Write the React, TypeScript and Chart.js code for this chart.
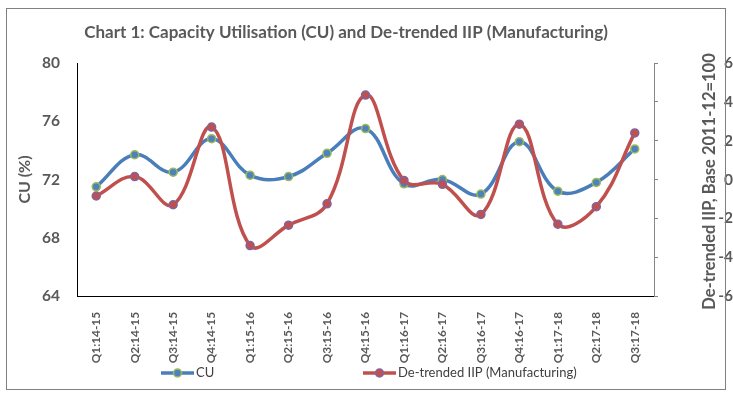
import React, { useEffect, useRef } from "react";
import { Chart, registerables } from "chart.js";

Chart.register(...registerables);

const chartTitle = "Chart 1: Capacity Utilisation (CU) and De-trended IIP (Manufacturing)";
const leftAxisTitle = "CU (%)";
const rightAxisTitle = "De-trended IIP, Base 2011-12=100";

const categories = [
  "Q1:14-15", "Q2:14-15", "Q3:14-15", "Q4:14-15",
  "Q1:15-16", "Q2:15-16", "Q3:15-16", "Q4:15-16",
  "Q1:16-17", "Q2:16-17", "Q3:16-17", "Q4:16-17",
  "Q1:17-18", "Q2:17-18", "Q3:17-18",
];

const cuLabel = "CU";
const cuValues = [71.5, 73.7, 72.5, 74.8, 72.3, 72.2, 73.8, 75.5, 71.7, 72.0, 71.0, 74.6, 71.2, 71.8, 74.1];

const iipLabel = "De-trended IIP (Manufacturing)";
const iipValues = [-0.85, 0.15, -1.3, 2.7, -3.4, -2.35, -1.25, 4.35, -0.05, -0.25, -1.8, 2.85, -2.3, -1.4, 2.4];

const leftAxisMin = 64;
const leftAxisMax = 80;
const leftAxisStep = 4;
const rightAxisMin = -6;
const rightAxisMax = 6;
const rightAxisStep = 2;

const FONT = "Lato, 'Open Sans', sans-serif";
const TEXT = "#595959";

const overlayPlugin = {
  id: "overlay",
  afterDraw(chart: any) {
    const { ctx, chartArea } = chart;
    const midY = (chartArea.top + chartArea.bottom) / 2;
    ctx.save();
    // chart title
    ctx.fillStyle = TEXT;
    ctx.font = `bold 17px ${FONT}`;
    ctx.textAlign = "center";
    ctx.textBaseline = "middle";
    ctx.fillText(chartTitle, chartArea.left + 269, 33);

    // left axis title
    ctx.font = `bold 16px ${FONT}`;
    ctx.save();
    ctx.translate(chartArea.left - 52, midY);
    ctx.rotate(-Math.PI / 2);
    ctx.fillText(leftAxisTitle, 0, 0);
    ctx.restore();

    // right axis title
    ctx.font = `bold 16.5px ${FONT}`;
    ctx.save();
    ctx.translate(chartArea.right + 56, midY + 2);
    ctx.rotate(-Math.PI / 2);
    ctx.fillText(rightAxisTitle, 0, 0);
    ctx.restore();

    // legend
    const legendY = 373;
    const items = [
      { ds: chart.data.datasets[0], x: 161 },
      { ds: chart.data.datasets[1], x: 363 },
    ];
    items.forEach(({ ds, x }) => {
      ctx.strokeStyle = ds.borderColor;
      ctx.lineWidth = 3.5;
      ctx.beginPath();
      ctx.moveTo(x, legendY);
      ctx.lineTo(x + 33, legendY);
      ctx.stroke();
      ctx.beginPath();
      ctx.arc(x + 16.5, legendY, 4, 0, Math.PI * 2);
      ctx.fillStyle = ds.pointBackgroundColor;
      ctx.fill();
      ctx.lineWidth = 1.5;
      ctx.strokeStyle = ds.pointBorderColor;
      ctx.stroke();
      ctx.fillStyle = "#404040";
      ctx.font = `13px ${FONT}`;
      ctx.textAlign = "left";
      ctx.fillText(ds.label, x + 35, legendY);
    });
    ctx.restore();
  },
};

export default function App() {
  const canvasRef = useRef<HTMLCanvasElement | null>(null);

  useEffect(() => {
    if (!canvasRef.current) return;
    const chart = new Chart(canvasRef.current, {
      type: "line",
      data: {
        labels: categories,
        datasets: [
          {
            label: cuLabel,
            data: cuValues,
            yAxisID: "y",
            borderColor: "#4A7EBB",
            backgroundColor: "#4A7EBB",
            borderWidth: 3.5,
            pointBackgroundColor: "#4F81BD",
            pointBorderColor: "#9BBB59",
            pointBorderWidth: 1.5,
            pointRadius: 4,
            tension: 0.4,
            order: 1,
          },
          {
            label: iipLabel,
            data: iipValues,
            yAxisID: "y1",
            borderColor: "#C0504D",
            backgroundColor: "#C0504D",
            borderWidth: 3.5,
            pointBackgroundColor: "#C0504D",
            pointBorderColor: "#8064A2",
            pointBorderWidth: 1.5,
            pointRadius: 4,
            tension: 0.4,
            order: 0,
          },
        ],
      },
      options: {
        responsive: false,
        animation: false,
        layout: { padding: { top: 63, left: 0, right: 0, bottom: 0 } },
        plugins: {
          legend: { display: false },
          title: { display: false },
          tooltip: { enabled: false },
        },
        scales: {
          x: {
            offset: true,
            grid: { display: false },
            border: { display: true, color: "#000000", width: 1 },
            ticks: {
              minRotation: 90,
              maxRotation: 90,
              autoSkip: false,
              padding: 8,
              color: TEXT,
              font: { family: FONT, size: 11.8, weight: "bold" },
            },
            afterFit: (s: any) => {
              s.height = 100;
            },
          },
          y: {
            position: "left",
            min: leftAxisMin,
            max: leftAxisMax,
            grid: { display: false, drawTicks: false },
            border: { display: true, color: "#000000", width: 1 },
            ticks: {
              stepSize: leftAxisStep,
              padding: 17,
              color: TEXT,
              font: { family: FONT, size: 15.5, weight: "bold" },
            },
            afterFit: (s: any) => {
              s.width = 77;
            },
          },
          y1: {
            position: "right",
            min: rightAxisMin,
            max: rightAxisMax,
            grid: {
              display: true,
              drawOnChartArea: false,
              drawTicks: true,
              tickLength: 4,
              color: "#868686",
            },
            border: { display: true, color: "#868686", width: 1 },
            ticks: {
              stepSize: rightAxisStep,
              padding: 11,
              crossAlign: "far",
              color: TEXT,
              font: { family: FONT, size: 15.5, weight: "bold" },
            },
            afterFit: (s: any) => {
              s.width = 79;
            },
          },
        },
      },
      plugins: [overlayPlugin],
    });
    return () => chart.destroy();
  }, []);

  return (
    <div style={{ position: "fixed", left: 0, top: 0, width: 733, height: 396, background: "#ffffff" }}>
      <canvas ref={canvasRef} width={733} height={396} style={{ position: "absolute", left: 0, top: 0 }} />
      <div
        style={{
          position: "absolute",
          left: 6,
          top: 8,
          width: 718,
          height: 380,
          border: "1px solid #808080",
          pointerEvents: "none",
        }}
      />
    </div>
  );
}
